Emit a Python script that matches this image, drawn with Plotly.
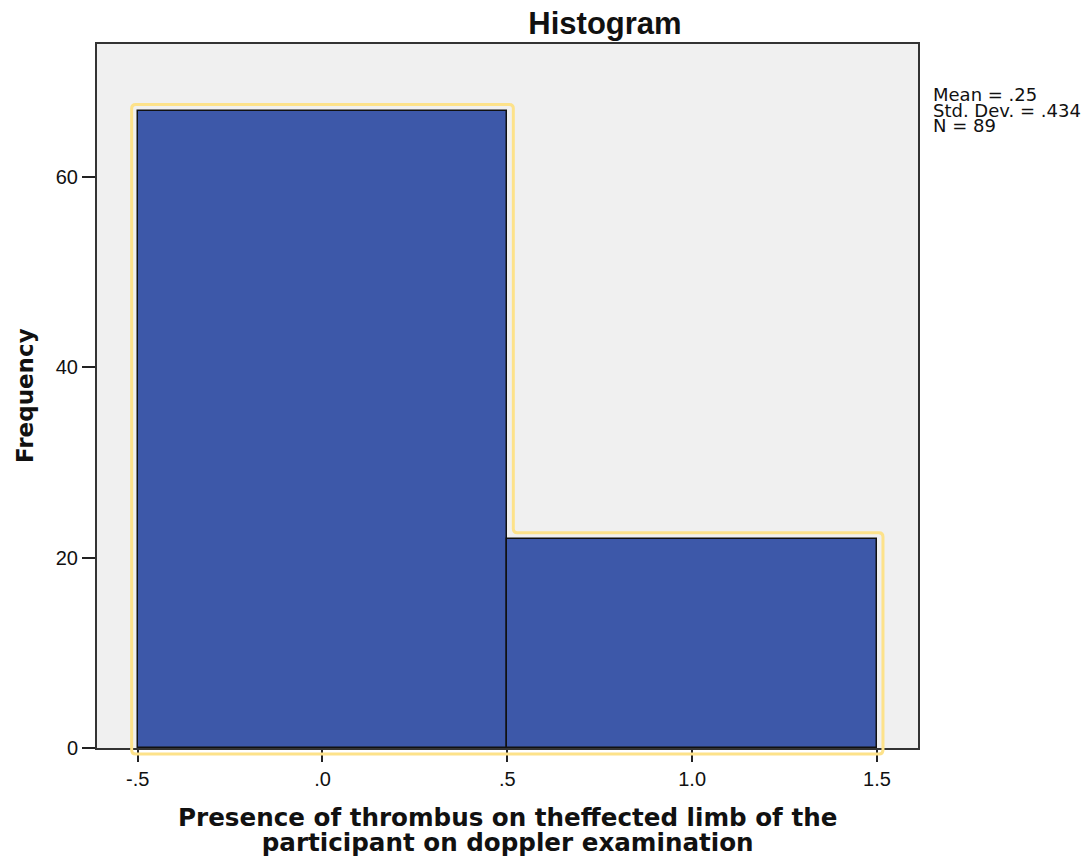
import math
import plotly.graph_objects as go

# Data
bin_edges = [-0.5, 0.5, 1.5]
counts = [67, 22]
x_tick_vals = [-0.5, 0.0, 0.5, 1.0, 1.5]
x_tick_text = ["-.5", ".0", ".5", "1.0", "1.5"]
y_tick_vals = [0, 20, 40, 60]
y_tick_text = ["0", "20", "40", "60"]
stats_lines = ["Mean = .25", "Std. Dev. = .434", "N = 89"]
x_title_lines = ["Presence of thrombus on theffected limb of the",
                 "participant on doppler examination"]

W, H = 1089, 857
ML, MR, MT, MB = 97, 171, 44, 109
XR = [-0.610, 1.611]
YR = [0, 74]
PW = W - ML - MR
PH = H - MT - MB

centers = [(bin_edges[i] + bin_edges[i + 1]) / 2 for i in range(len(counts))]
widths = [bin_edges[i + 1] - bin_edges[i] for i in range(len(counts))]

fig = go.Figure()
fig.add_trace(go.Bar(
    x=centers, y=counts, width=widths,
    marker=dict(color="#3D58A9", line=dict(color="#111111", width=1.5)),
    hoverinfo="x+y", showlegend=False,
))

# Yellow outline around the histogram shape (computed from bins/counts)
def to_px(xv, yv):
    px = ML + (xv - XR[0]) / (XR[1] - XR[0]) * PW
    py = MT + PH - (yv - YR[0]) / (YR[1] - YR[0]) * PH
    return px, py

def to_paper(px, py):
    return (px - ML) / PW, (MT + PH - py) / PH

off = 6.0
pts = []
x0, _ = to_px(bin_edges[0], 0)
_, ybase = to_px(0, 0)
pts.append((x0 - off, ybase + off))
for i, c in enumerate(counts):
    xl, _ = to_px(bin_edges[i], 0)
    xr, _ = to_px(bin_edges[i + 1], 0)
    _, yt = to_px(0, c)
    if i == 0:
        pts.append((xl - off, yt - off))
    else:
        prev = counts[i - 1]
        _, yp = to_px(0, prev)
        if c < prev:
            pts.append((xl + off, yp - off))
            pts.append((xl + off, yt - off))
        else:
            pts.append((xl - off, yp - off))
            pts.append((xl - off, yt - off))
    if i == len(counts) - 1:
        pts.append((xr + off, yt - off))
pxl, _ = to_px(bin_edges[-1], 0)
pts.append((pxl + off, ybase + off))

r = 4.0
def lerp(a, b, d):
    dx, dy = b[0] - a[0], b[1] - a[1]
    L = math.hypot(dx, dy)
    t = min(d / L, 0.5) if L > 0 else 0
    return (a[0] + dx * t, a[1] + dy * t)

n = len(pts)
segs = []
for i in range(n):
    p = pts[i]
    a = lerp(p, pts[i - 1], r)
    b = lerp(p, pts[(i + 1) % n], r)
    segs.append((a, p, b))

def pp(q):
    x, y = to_paper(*q)
    return f"{x:.5f},{y:.5f}"

path = "M " + pp(segs[0][2])
for i in range(1, n):
    a, p, b = segs[i]
    path += f" L {pp(a)} Q {pp(p)} {pp(b)}"
a, p, b = segs[0]
path += f" L {pp(a)} Q {pp(p)} {pp(b)} Z"

fig.add_shape(type="path", path=path, xref="paper", yref="paper",
              line=dict(color="#FDE28A", width=3), layer="above")

fig.update_layout(
    width=W, height=H,
    margin=dict(l=ML, r=MR, t=MT, b=MB),
    paper_bgcolor="white", plot_bgcolor="#F0F0F0",
    bargap=0,
    font=dict(family="Liberation Sans, Arial, sans-serif", color="#111111"),
    title=dict(text="<b>Histogram</b>", x=605 / W, xref="container", xanchor="center",
               y=1 - 23 / H, yref="container", yanchor="middle",
               font=dict(family="Liberation Sans, Arial, sans-serif", size=31, color="#111111")),
)
fig.update_xaxes(range=XR, tickvals=x_tick_vals, ticktext=x_tick_text,
                 showgrid=False, zeroline=False, showline=True, mirror=True,
                 linecolor="#333333", linewidth=2, ticks="outside", ticklen=12,
                 tickwidth=2, tickcolor="#222222",
                 tickfont=dict(size=20, color="#111111", family="Liberation Sans, Arial, sans-serif"))
fig.update_yaxes(range=YR, tickvals=y_tick_vals, ticktext=y_tick_text,
                 showgrid=False, zeroline=False, showline=True, mirror=True,
                 linecolor="#333333", linewidth=2, ticks="outside", ticklen=13,
                 tickwidth=2, tickcolor="#222222",
                 tickfont=dict(size=20, color="#111111", family="Liberation Sans, Arial, sans-serif"))

# Axis titles
fig.add_annotation(text="<b>Frequency</b>", textangle=-90, xref="paper", yref="paper",
                   x=(25 - ML) / PW, y=0.5, xanchor="center", yanchor="middle", showarrow=False,
                   font=dict(family="DejaVu Sans, Verdana, sans-serif", size=23, color="#111111"))

# x title: one text block; base size sets line spacing, inner spans set glyph size
xt = "<br>".join(f"<span style='font-size:24.6px'><b>{t}</b></span>" for t in x_title_lines)
fig.add_annotation(text=xt, xref="paper", yref="paper",
                   x=0.5, y=(MT + PH - 829.5) / PH, xanchor="center", yanchor="middle",
                   showarrow=False, align="center",
                   font=dict(family="DejaVu Sans, Verdana, sans-serif", size=19.2, color="#111111"))

# Stats text block
st = "<br>".join(f"<span style='font-size:18px'>{t}</span>" for t in stats_lines)
fig.add_annotation(text=st, xref="paper", yref="paper",
                   x=(931 - ML) / PW, y=(MT + PH - 110) / PH, xanchor="left", yanchor="middle",
                   showarrow=False, align="left",
                   font=dict(family="DejaVu Sans, Arial, sans-serif", size=12, color="#111111"))

fig.write_html("out.html", config={"displayModeBar": False},
               post_script="document.body.style.margin='0';")
